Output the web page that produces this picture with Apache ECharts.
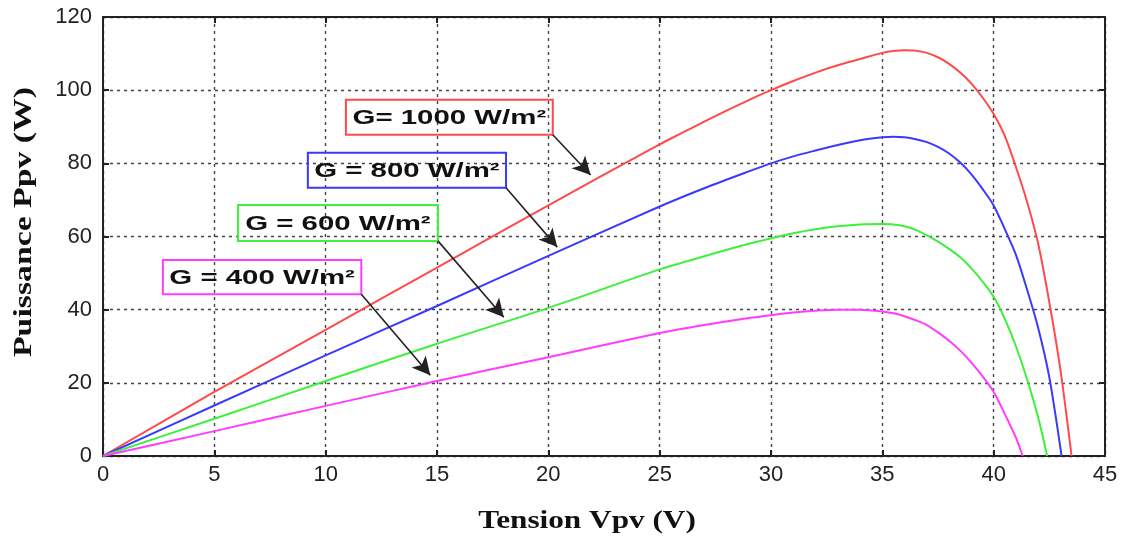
<!DOCTYPE html>
<html>
<head>
<meta charset="utf-8">
<script src="https://cdn.jsdelivr.net/npm/echarts@6/dist/echarts.min.js"></script>
<style>
html,body{margin:0;padding:0;background:#fff;}
#c{width:1125px;height:539px;}
</style>
</head>
<body>
<div id="c"></div>
<script>
// Data (V, P)
const g1000 = [[0,0],[5,17.5],[10,34.5],[15,51.5],[20,68.5],[25,85.2],[26,88.3],[27,91.4],[28,94.4],[29,97.3],[30,100],[31,102.5],[32,104.8],[33,106.8],[34,108.5],[35,110.2],[35.5,110.7],[36,110.9],[36.5,110.8],[37,110.2],[37.5,109],[38,107.2],[38.5,104.8],[39,101.8],[39.5,98],[40,93.5],[40.5,87.5],[41,79],[41.5,69.5],[42,58],[42.5,42],[43,23.5],[43.5,0]];
const g800 = [[0,0],[5,13.8],[10,27.5],[15,41],[20,54.7],[25,68.2],[27,73.2],[29,77.8],[30,80],[31,81.9],[32,83.5],[33,85],[34,86.3],[35,87.1],[35.5,87.3],[36,87.1],[36.5,86.6],[37,85.8],[37.5,84.5],[38,82.7],[38.5,80.2],[39,77],[39.5,73],[40,68.5],[40.5,62],[41,55],[41.5,45.5],[42,35],[42.5,21.5],[43.05,0]];
const g600 = [[0,0],[5,10.2],[10,20.5],[15,30.7],[20,40.5],[25,51],[27,54.6],[29,58],[30,59.5],[31,60.9],[32,62],[33,62.8],[34,63.3],[35,63.4],[35.5,63.3],[36,62.8],[36.5,61.8],[37,60.3],[37.5,58.6],[38,56.6],[38.5,54.3],[39,51.3],[39.5,47.7],[40,43.5],[40.5,37.5],[41,30],[41.5,21],[42,10.5],[42.4,0]];
const g400 = [[0,0],[5,6.8],[10,13.7],[15,20.5],[20,27],[25,33.6],[27,35.8],[29,37.7],[30,38.5],[31,39.2],[32,39.7],[33,40],[34,40],[34.5,39.8],[35,39.5],[35.5,39],[36,38.2],[36.5,37.1],[37,35.8],[37.5,33.8],[38,31.5],[38.5,28.8],[39,25.5],[39.5,21.8],[40,17.5],[40.5,11.5],[41,5],[41.3,0]];
const seriesNames = ['G= 1000 W/m²','G = 800 W/m²','G = 600 W/m²','G = 400 W/m²'];
const seriesData = [g1000, g800, g600, g400];
const xTicks = [0,5,10,15,20,25,30,35,40,45];
const yTicks = [0,20,40,60,80,100,120];
const xTitle = 'Tension Vpv (V)';
const yTitle = 'Puissance Ppv (W)';

// Styles / annotation placement (data coordinates)
const colors = ['#ff4a4a','#3a3aff','#3cf03c','#ff3cff'];
const boxes = [
  {tl:[10.91,97.4], br:[20.2,87.8], arrow:[[20.2,87.8],[21.9,76.8]]},
  {tl:[9.2,82.9], br:[18.1,73.3], arrow:[[18.1,73.3],[20.4,57.1]]},
  {tl:[6.06,68.6], br:[15.04,58.8], arrow:[[15.04,58.8],[18.0,37.9]]},
  {tl:[2.69,53.6], br:[11.6,44.2], arrow:[[11.6,44.2],[14.7,22.1]]}
];

const chart = echarts.init(document.getElementById('c'), null, {renderer:'canvas'});
const gridLine = {show:true, lineStyle:{color:'#444', width:1.4, type:[3,4]}};
const tickLab = {color:'#222', fontSize:22, fontFamily:'Liberation Sans, Arial, sans-serif'};
const axLine = {show:true, onZero:false, lineStyle:{color:'#222', width:2}};
const tick = {show:true, inside:true, length:6, lineStyle:{color:'#222', width:2}};

const series = seriesData.map((d,i)=>({
  type:'line', name:seriesNames[i], data:d, showSymbol:false, smooth:0.3,
  lineStyle:{color:colors[i], width:2}, itemStyle:{color:colors[i]}, z:3,
  markLine: {
    silent:true, symbol:['none','arrow'], symbolSize:[14,18],
    lineStyle:{color:'#222', width:1.6, type:'solid'},
    label:{show:false},
    data:[[{coord:boxes[i].arrow[0]},{coord:boxes[i].arrow[1]}]]
  }
}));

chart.setOption({
  animation:false,
  backgroundColor:'#fff',
  grid:{left:103, right:20, top:17, bottom:83, containLabel:false},
  xAxis:[
    {type:'value', min:0, max:45, interval:5, axisLine:axLine, axisTick:tick,
     axisLabel:Object.assign({margin:8, formatter:v=>xTicks.includes(v)?String(v):''}, tickLab),
     splitLine:gridLine},
    {type:'value', position:'top', min:0, max:45, interval:5, axisLine:axLine, axisTick:tick,
     axisLabel:{show:false}, splitLine:{show:false}}
  ],
  yAxis:[
    {type:'value', min:0, max:120, interval:20, axisLine:axLine, axisTick:tick,
     axisLabel:Object.assign({margin:11, formatter:v=>yTicks.includes(v)?String(v):''}, tickLab),
     splitLine:gridLine},
    {type:'value', position:'right', min:0, max:120, interval:20, axisLine:axLine, axisTick:tick,
     axisLabel:{show:false}, splitLine:{show:false}}
  ],
  series: series
});

// label boxes placed through the chart's own coordinate conversion
const graphics = boxes.map((b,i)=>{
  const p1 = chart.convertToPixel({xAxisIndex:0, yAxisIndex:0}, b.tl);
  const p2 = chart.convertToPixel({xAxisIndex:0, yAxisIndex:0}, b.br);
  const w = p2[0]-p1[0], h = p2[1]-p1[1];
  return {
    type:'group', x:p1[0], y:p1[1], z:10,
    children:[
      {type:'rect', shape:{x:0,y:0,width:w,height:h}, style:{fill:'transparent', stroke:colors[i], lineWidth:2}},
      {type:'text', x:w/2, y:h/2+1, scaleX:1.4,
       style:{text:seriesNames[i], fill:'#111', font:'bold 21px "Liberation Sans", Arial, sans-serif', align:'center', verticalAlign:'middle'}}
    ]
  };
});
const titleFont = 'bold 25px "Liberation Serif", "Times New Roman", serif';
graphics.push({type:'text', x:587, y:522, scaleX:1.25, z:10,
  style:{text:xTitle, fill:'#111', font:titleFont, align:'center', verticalAlign:'middle'}});
graphics.push({type:'text', x:25, y:222, rotation:Math.PI/2, scaleX:1.35, z:10,
  style:{text:yTitle, fill:'#111', font:titleFont, align:'center', verticalAlign:'middle'}});
chart.setOption({graphic:graphics});
</script>
</body>
</html>
